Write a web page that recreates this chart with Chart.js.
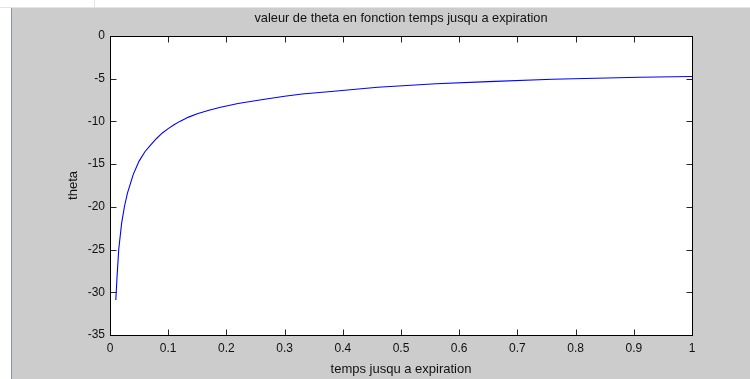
<!DOCTYPE html>
<html>
<head>
<meta charset="utf-8">
<script src="https://cdn.jsdelivr.net/npm/chart.js@4.4.1/dist/chart.umd.min.js"></script>
<style>
  html, body { margin: 0; padding: 0; background: #ffffff; }
  #wrap { width: 750px; height: 379px; position: relative; }
  canvas { display: block; }
</style>
</head>
<body>
<div id="wrap"><canvas id="c" width="750" height="379"></canvas></div>
<script>
// Time to expiry (years) and the option's theta at each time
const timeToExpiry = [0.01, 0.012, 0.015, 0.02, 0.025, 0.03, 0.04, 0.05, 0.06, 0.07, 0.08,
                      0.09, 0.1, 0.11, 0.12, 0.135, 0.15, 0.17, 0.19, 0.22, 0.26, 0.3,
                      0.33, 0.38, 0.46, 0.56, 0.65, 0.76, 0.91, 1.0];
const thetaValues = [-30.9, -28.3, -25.0, -21.9, -19.9, -18.4, -16.2, -14.65, -13.55, -12.75, -12.0,
                     -11.35, -10.85, -10.4, -10.0, -9.5, -9.1, -8.7, -8.35, -7.9, -7.47, -7.05,
                     -6.8, -6.5, -6.0, -5.6, -5.35, -5.07, -4.84, -4.75];

// Tick positions
const xTickValues = [0, 0.1, 0.2, 0.3, 0.4, 0.5, 0.6, 0.7, 0.8, 0.9, 1];
const yTickValues = [0, -5, -10, -15, -20, -25, -30, -35];

const chartTitle = 'valeur de theta en fonction temps jusqu a expiration';
const xAxisTitle = 'temps jusqu a expiration';
const yAxisTitle = 'theta';

const FONT = "'Liberation Sans', Arial, Helvetica, sans-serif";
const TICK_LEN = 6;

// Gray figure window with white axes box
const figureBackground = {
  id: 'figureBackground',
  beforeDraw(chart) {
    const { ctx, width, height, chartArea: a } = chart;
    ctx.save();
    ctx.fillStyle = '#cccccc';
    ctx.fillRect(0, 0, width, height);
    ctx.fillStyle = '#ffffff';
    ctx.fillRect(0, 0, width, 7);
    ctx.fillRect(0, 0, 11, height);
    ctx.strokeStyle = '#8797ab';
    ctx.lineWidth = 1;
    ctx.beginPath();
    ctx.moveTo(11.5, 7);
    ctx.lineTo(11.5, height);
    ctx.stroke();
    ctx.strokeStyle = '#e4e4e4';
    ctx.beginPath();
    ctx.moveTo(0, 7.5);
    ctx.lineTo(width, 7.5);
    ctx.moveTo(94.5, 0);
    ctx.lineTo(94.5, 7);
    ctx.stroke();
    ctx.fillStyle = '#ffffff';
    ctx.fillRect(a.left, a.top, a.right - a.left, a.bottom - a.top);
    ctx.restore();
  }
};

// Inward tick marks on all four sides plus the axes box
const boxTicks = {
  id: 'boxTicks',
  afterDatasetsDraw(chart) {
    const { ctx, chartArea: a, scales } = chart;
    const L = Math.round(a.left) + 0.5, R = Math.round(a.right) + 0.5;
    const T = Math.round(a.top) + 0.5, B = Math.round(a.bottom) + 0.5;
    ctx.save();
    ctx.lineWidth = 1;
    ctx.strokeStyle = '#262626';
    ctx.beginPath();
    xTickValues.forEach(v => {
      const px = Math.round(scales.x.getPixelForValue(v)) + 0.5;
      ctx.moveTo(px, B); ctx.lineTo(px, B - TICK_LEN);
      ctx.moveTo(px, T); ctx.lineTo(px, T + TICK_LEN);
    });
    yTickValues.forEach(v => {
      const py = Math.round(scales.y.getPixelForValue(v)) + 0.5;
      ctx.moveTo(L, py); ctx.lineTo(L + TICK_LEN, py);
      ctx.moveTo(R, py); ctx.lineTo(R - TICK_LEN, py);
    });
    ctx.stroke();
    ctx.strokeStyle = '#000000';
    ctx.strokeRect(L, T, R - L, B - T);
    ctx.restore();
  }
};

new Chart(document.getElementById('c'), {
  type: 'line',
  data: {
    datasets: [{
      data: timeToExpiry.map((t, i) => ({ x: t, y: thetaValues[i] })),
      borderColor: '#0000ff',
      borderWidth: 1.1,
      pointRadius: 0,
      tension: 0,
      fill: false
    }]
  },
  options: {
    responsive: false,
    animation: false,
    devicePixelRatio: 1,
    layout: { padding: { left: 14, right: 58, top: 8, bottom: 0 } },
    plugins: {
      legend: { display: false },
      tooltip: { enabled: false },
      title: {
        display: true,
        text: chartTitle,
        fullSize: false,
        color: '#111111',
        font: { family: FONT, size: 12.8, weight: 'normal', lineHeight: 1.2 },
        padding: { top: 2.3, bottom: 10.3 }
      }
    },
    scales: {
      x: {
        type: 'linear',
        min: 0,
        max: 1,
        afterBuildTicks: s => { s.ticks = xTickValues.map(v => ({ value: v })); },
        afterFit: s => { s.height = 44; },
        grid: { display: false, drawTicks: false },
        border: { display: false },
        ticks: {
          color: '#111111',
          font: { family: FONT, size: 12, lineHeight: 1.2 },
          padding: 6.8,
          maxRotation: 0,
          autoSkip: false,
          callback: v => String(v)
        },
        title: {
          display: true,
          text: xAxisTitle,
          color: '#111111',
          font: { family: FONT, size: 13, lineHeight: 1.2 },
          padding: { top: 0, bottom: 2.2 }
        }
      },
      y: {
        type: 'linear',
        min: -35,
        max: 0,
        afterBuildTicks: s => { s.ticks = yTickValues.map(v => ({ value: v })); },
        afterFit: s => { s.width = 96; },
        grid: { display: false, drawTicks: false },
        border: { display: false },
        ticks: {
          color: '#111111',
          font: { family: FONT, size: 12, lineHeight: 1.2 },
          padding: 5,
          autoSkip: false,
          callback: v => String(v)
        },
        title: {
          display: true,
          text: yAxisTitle,
          color: '#111111',
          font: { family: FONT, size: 13, lineHeight: 1.2 },
          padding: { top: 51.2, bottom: 0 }
        }
      }
    }
  },
  plugins: [figureBackground, boxTicks]
});
</script>
</body>
</html>
